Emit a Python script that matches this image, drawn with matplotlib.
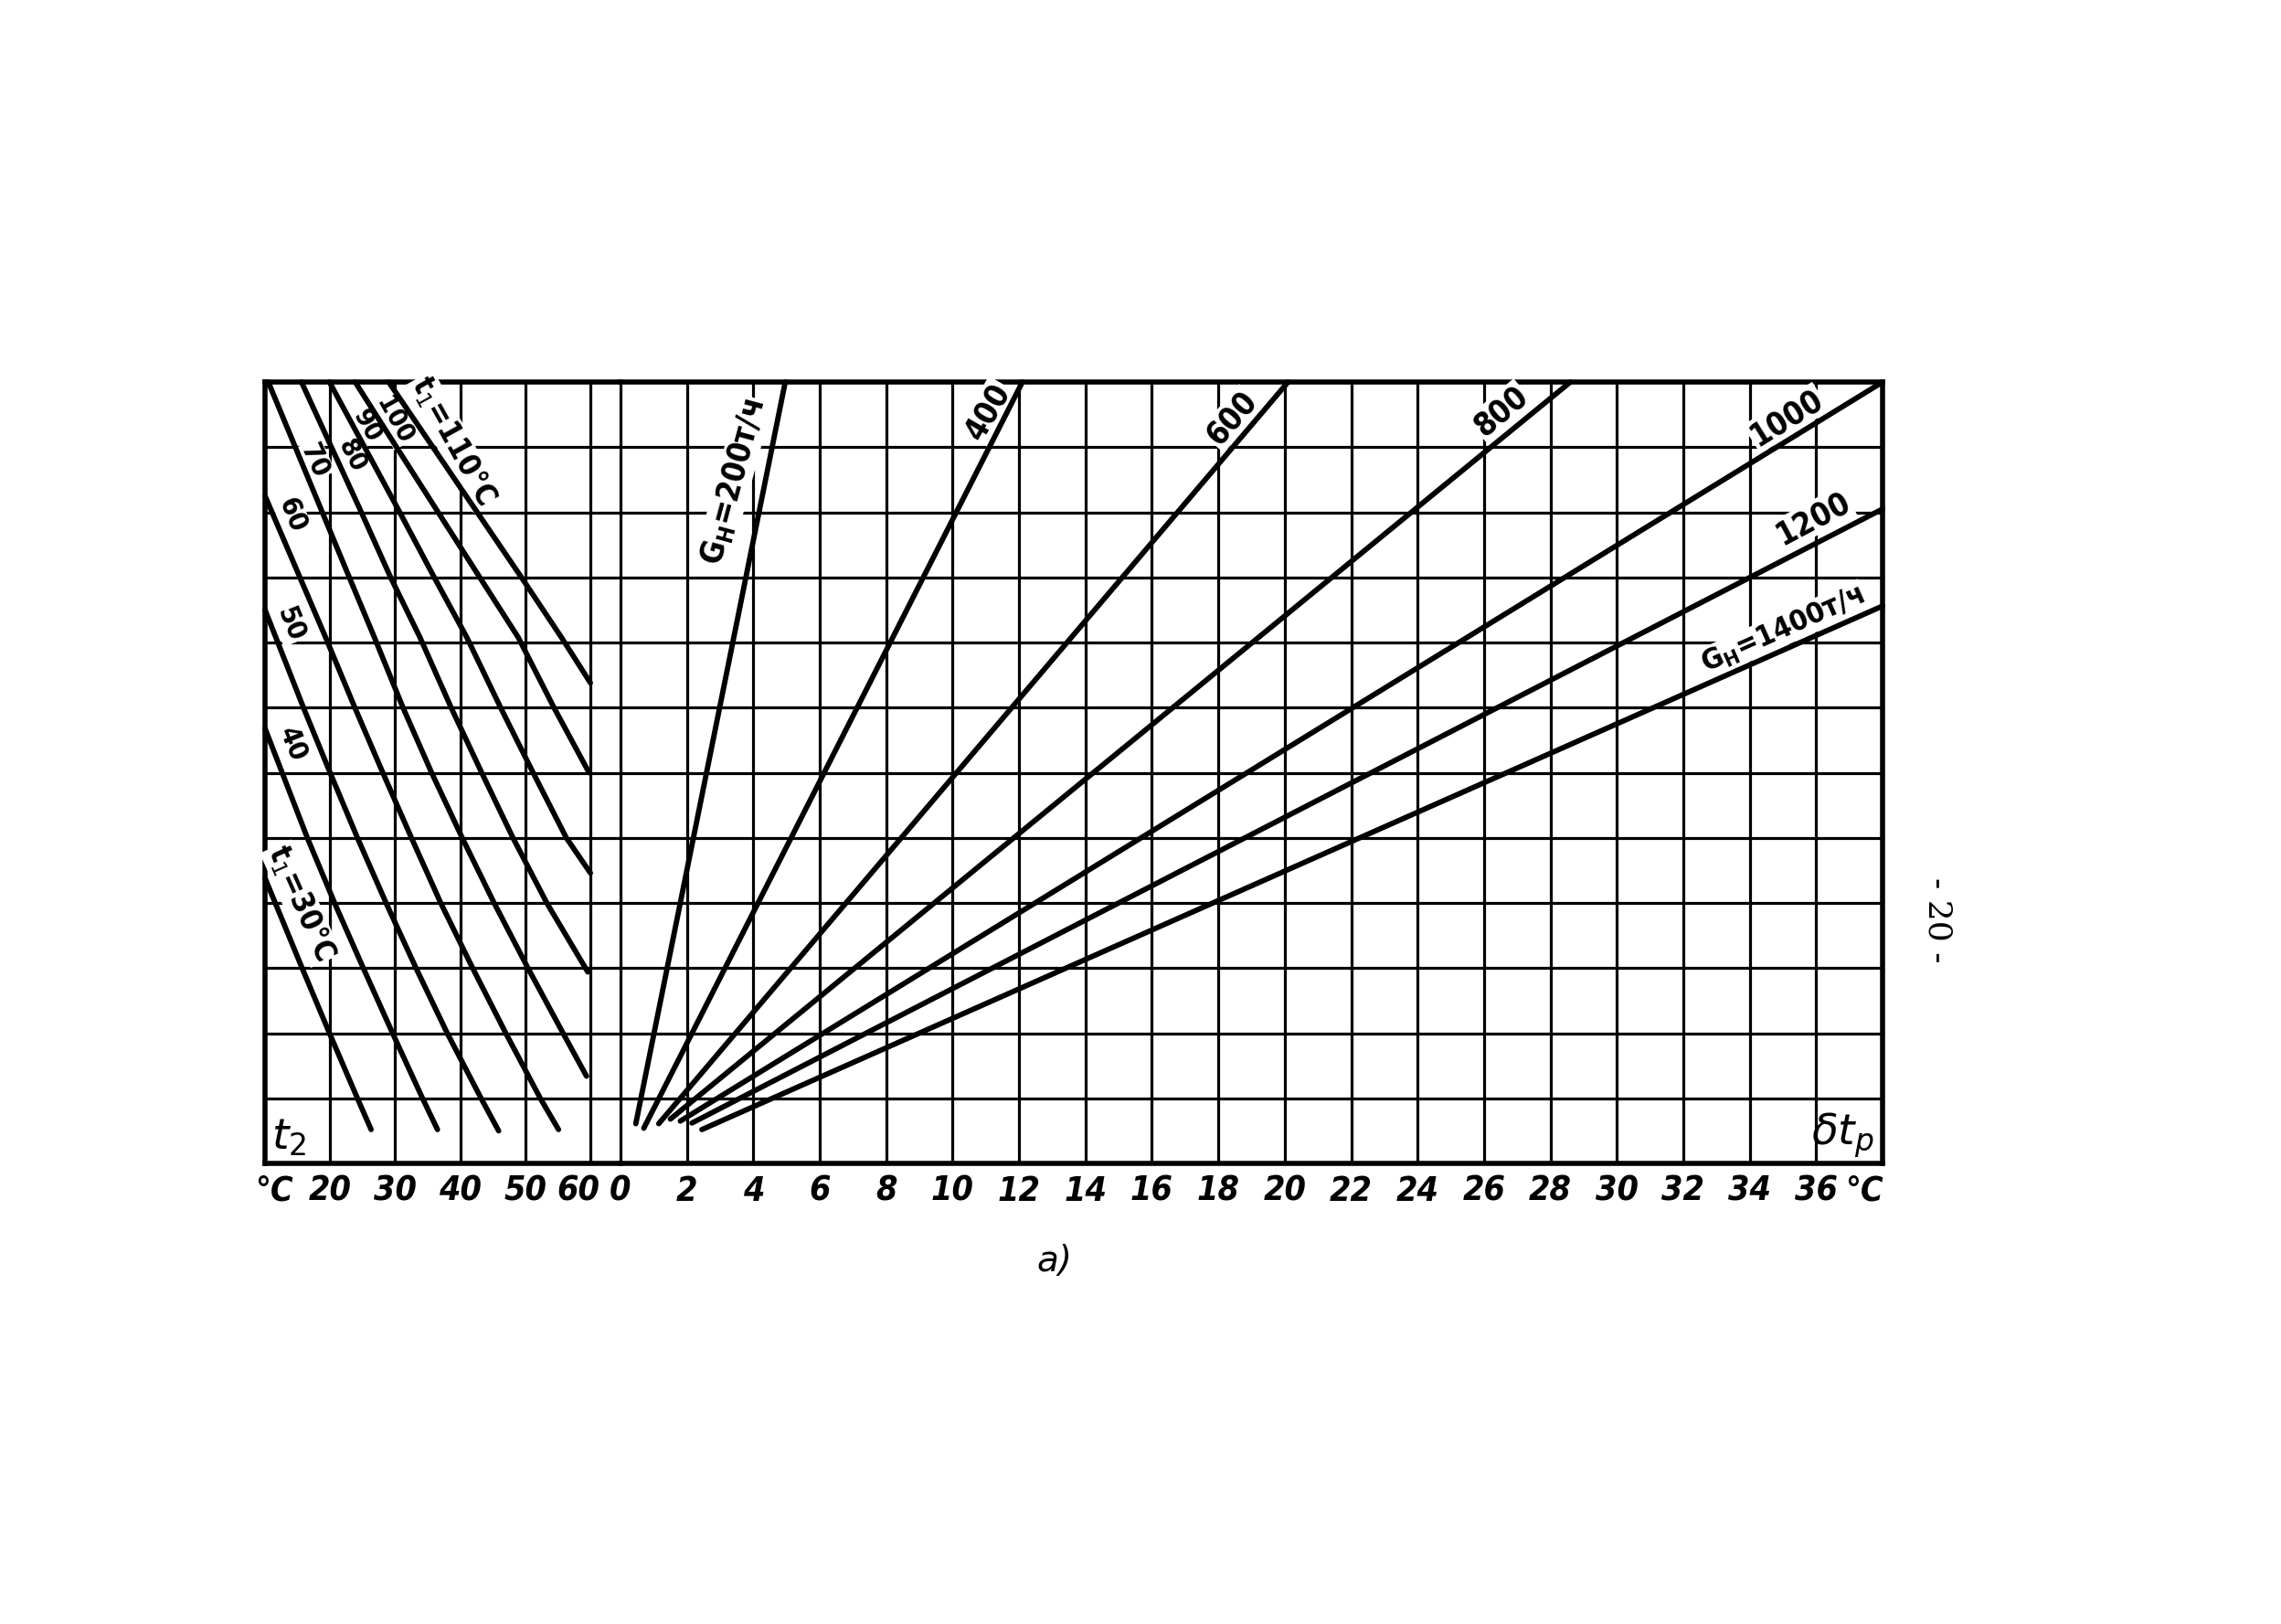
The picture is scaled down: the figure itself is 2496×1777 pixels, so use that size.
import numpy as np
import matplotlib.pyplot as plt

# left part: t1 curves over t2 (x) and grid units (y)
t1_values = [30, 40, 50, 60, 70, 80, 90, 100, 110]
t1_t2 = [
    [10.0, 15.7, 19.9, 24.2, 26.3],
    [10.0, 16.5, 20.9, 25.1, 29.6, 34.2, 36.5],
    [10.0, 15.9, 20.0, 24.2, 28.6, 33.2, 38.0, 43.2, 45.9],
    [10.0, 19.3, 23.8, 28.1, 32.5, 37.0, 41.9, 47.0, 52.3, 55.1],
    [10.5, 14.65, 18.8, 22.95, 26.8, 31.2, 35.6, 40.3, 45.2, 50.4, 55.8, 59.4],
    [15.6, 20.2, 24.8, 29.3, 33.8, 38.6, 43.3, 48.1, 53.3, 59.6],
    [19.9, 25.3, 30.7, 36.0, 41.0, 46.2, 51.2, 56.3, 60.0],
    [23.85, 30.2, 36.6, 43.0, 48.9, 54.4, 59.8],
    [29.0, 35.8, 42.6, 49.4, 55.6, 60.0],
]
t1_y = [
    [4.38, 3.0, 2.0, 1.0, 0.52],
    [6.68, 5.0, 3.95, 3.0, 2.0, 1.0, 0.52],
    [8.5, 7.0, 6.0, 5.0, 4.0, 3.0, 2.0, 1.0, 0.5],
    [10.25, 8.08, 7.0, 6.0, 5.0, 4.0, 3.0, 2.0, 1.0, 0.52],
    [12.0, 11.0, 10.0, 9.0, 8.08, 7.0, 6.0, 5.0, 4.0, 3.0, 2.0, 1.34],
    [12.0, 11.0, 10.0, 9.0, 8.08, 7.0, 6.0, 5.0, 4.0, 2.94],
    [12.0, 11.0, 10.0, 9.0, 8.08, 7.0, 6.0, 5.0, 4.46],
    [12.0, 11.0, 10.0, 9.0, 8.08, 7.0, 6.0],
    [12.0, 11.0, 10.0, 9.0, 8.07, 7.38],
]

# right part: straight G_H lines over dt_p (x)
g_values = [200, 400, 600, 800, 1000, 1200, 1400]
g_dt_start = [0.46, 0.70, 1.15, 1.50, 1.80, 2.15, 2.45]
g_y_start = [0.61, 0.54, 0.61, 0.68, 0.65, 0.62, 0.52]
g_dt_end = [4.96, 12.1, 20.1, 28.6, 38.0, 38.0, 38.0]
g_y_end = [12.0, 12.0, 12.0, 12.0, 12.0, 10.05, 8.56]

t2_ticks = [10, 20, 30, 40, 50, 60]
t2_labels = ['°C', '20', '30', '40', '50', '60']
dt_ticks = list(range(0, 38, 2))
dt_labels = [str(v) for v in dt_ticks]

FONT = dict(family='DejaVu Sans', stretch='condensed')
GRID_LW = 2.3
CURVE_LW = 4.2

fig = plt.figure(figsize=(24.96, 17.77), dpi=100)
bot, h = 0.28362, 0.48115
axl = fig.add_axes([0.11619, bot, 0.15585, h])
axr = fig.add_axes([0.27204, bot, 0.55329, h])

axl.set_xlim(10, 64.63)
axr.set_xlim(0, 38)
for ax in (axl, axr):
    ax.set_ylim(0, 12)
    ax.set_yticks([])
    for yy in range(1, 12):
        ax.axhline(yy, color='black', lw=GRID_LW, zorder=1)
    for s in ('top', 'bottom'):
        ax.spines[s].set_linewidth(4)
    ax.tick_params(axis='x', length=0, pad=9)

axl.spines['right'].set_visible(False)
axl.spines['left'].set_linewidth(4)
axr.spines['left'].set_linewidth(GRID_LW)
axr.spines['right'].set_linewidth(4)

for v in t2_ticks[1:]:
    axl.axvline(v, color='black', lw=GRID_LW, zorder=1)
for v in dt_ticks[1:]:
    axr.axvline(v, color='black', lw=GRID_LW, zorder=1)

# label positions: the °C marks sit just inside the frame, 60 nudged left
axl.set_xticks([11.4, 20, 30, 40, 50, 58.2])
axl.set_xticklabels(t2_labels, fontsize=27, style='italic',
                    weight='bold', **FONT)
axr.set_xticks(dt_ticks + [37.45])
axr.set_xticklabels(dt_labels + ['°C'], fontsize=27, style='italic',
                    weight='bold', **FONT)

for xs, ys in zip(t1_t2, t1_y):
    axl.plot(xs, ys, color='black', lw=CURVE_LW, solid_capstyle='round',
             solid_joinstyle='round', clip_on=False, zorder=4)

for x0, y0, x1, y1 in zip(g_dt_start, g_y_start, g_dt_end, g_y_end):
    axr.plot([x0, x1], [y0, y1], color='black', lw=CURVE_LW,
             solid_capstyle='round', clip_on=False, zorder=4)

box = dict(facecolor='white', edgecolor='none', pad=1)


def lab(ax, x, y, s, rot, size=25):
    ax.text(x, y, s, rotation=rot, rotation_mode='anchor', ha='center',
            va='center', fontsize=size, weight='bold', bbox=box, zorder=3,
            **FONT)


# t1 labels (left axes data coords)
lab(axl, 38.9, 11.09, 't$_1$=110°C', -61, 24)
lab(axl, 29.8, 11.41, '100', -61, 21)
lab(axl, 25.6, 11.32, '90', -61, 21)
lab(axl, 23.25, 10.87, '80', -63, 21)
lab(axl, 17.6, 10.8, '70', -66, 22)
lab(axl, 14.1, 9.96, '60', -68, 22)
lab(axl, 13.9, 8.28, '50', -68, 22)
lab(axl, 14.2, 6.43, '40', -68, 22)
lab(axl, 15.5, 3.99, 't$_1$=30°C', -66, 24)

# G_H labels (right axes data coords)
lab(axr, 3.4, 10.47, 'G$_{\\mathregular{Н}}$=200т/ч', 75)
lab(axr, 11.06, 11.55, '400', 60)
lab(axr, 18.4, 11.44, '600', 49)
lab(axr, 26.5, 11.55, '800', 40)
lab(axr, 35.1, 11.45, '1000', 32)
lab(axr, 35.9, 9.9, '1200', 28)
lab(axr, 35.0, 8.2, 'G$_{\\mathregular{Н}}$=1400т/ч', 24, 23)

axl.text(11.0, 0.08, 't$_2$', fontsize=34, style='italic', ha='left',
         va='bottom', zorder=3)
axr.text(37.75, 0.05, '$\\delta t_p$', fontsize=34, ha='right', va='bottom',
         zorder=3)

fig.text(0.4623, 0.2234, 'a)', fontsize=28, style='italic', ha='center',
         va='center')
fig.text(0.8494, 0.4333, '- 20 -', fontsize=26, family='DejaVu Serif',
         rotation=-90, ha='center', va='center')

fig.savefig('out.png', dpi=100)
